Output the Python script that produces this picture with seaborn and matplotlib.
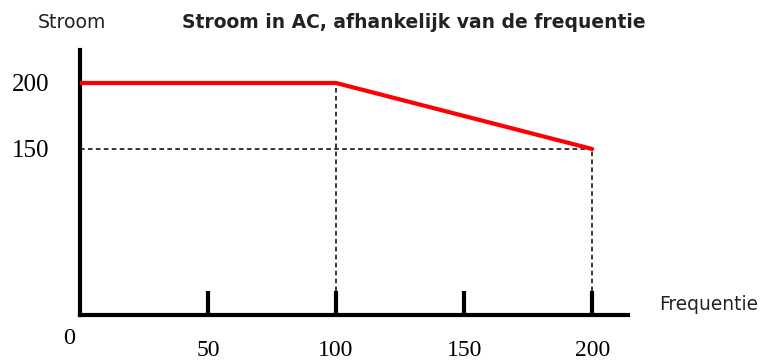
import matplotlib
matplotlib.use("Agg")
import matplotlib.pyplot as plt
import seaborn as sns
import pandas as pd

# Current limit versus AC frequency
freq = [0, 100, 200]
current = [200, 200, 150]

x_ticks = [50, 100, 150, 200]
x_tick_labels = ["50", "100", "150", "200"]
y_ticks = [150, 200]
y_tick_labels = ["150", "200"]

title = "Stroom in AC, afhankelijk van de frequentie"
y_name = "Stroom"
x_name = "Frequentie"

sns.set_style("white")
plt.rcParams["font.family"] = ["DejaVu Sans"]

df = pd.DataFrame({"freq": freq, "current": current})

fig = plt.figure(figsize=(7.6, 3.61), dpi=100)
ax = fig.add_axes([80 / 760, 46 / 361, (628 - 80) / 760, (315 - 50) / 361])

x_lo, x_hi = 0, 214
y_lo, y_hi = 24.2, 225
ax.set_xlim(x_lo, x_hi)
ax.set_ylim(y_lo, y_hi)

# dashed guide lines to the corner points
dash = (0, (3.0, 2.2))
ax.hlines(150, 0, 200, colors="black", linestyles=dash, linewidth=1.1, zorder=2)
ax.vlines(100, y_lo, 200, colors="black", linestyles=dash, linewidth=1.1, zorder=2)
ax.vlines(200, y_lo, 150, colors="black", linestyles=dash, linewidth=1.1, zorder=2)

sns.lineplot(data=df, x="freq", y="current", color="#ff0000", linewidth=3.0, ax=ax, zorder=3)

for side in ["top", "right"]:
    ax.spines[side].set_visible(False)
for side in ["left", "bottom"]:
    ax.spines[side].set_linewidth(3.0)
    ax.spines[side].set_color("black")

serif = ["Liberation Serif", "DejaVu Serif"]
ax.set_xticks(x_ticks)
ax.set_xticklabels(x_tick_labels, fontfamily=serif, fontsize=17, color="black")
ax.set_yticks(y_ticks)
ax.set_yticklabels(y_tick_labels, fontfamily=serif, fontsize=18, color="black")
ax.tick_params(axis="x", bottom=True, direction="in", length=17.5, width=3,
               color="black", pad=18)
ax.tick_params(axis="y", left=False, length=0, pad=22)
ax.set_xlabel("")
ax.set_ylabel("")

# origin label sits apart from the tick labels
ax.annotate("0", xy=(0, y_lo), xytext=(-8, -17), textcoords="offset points",
            ha="center", va="center", fontfamily=serif, fontsize=17.5, color="black")

fig.text(38 / 760, 1 - 22 / 361, y_name, ha="left", va="center", fontsize=13.6, color="#222222")
fig.text(182 / 760, 1 - 22 / 361, title, ha="left", va="center", fontsize=13.5,
         fontweight="bold", color="#222222")
fig.text(659 / 760, 1 - 305 / 361, x_name, ha="left", va="center", fontsize=13.4, color="#222222")

fig.savefig("out.png", dpi=100)
